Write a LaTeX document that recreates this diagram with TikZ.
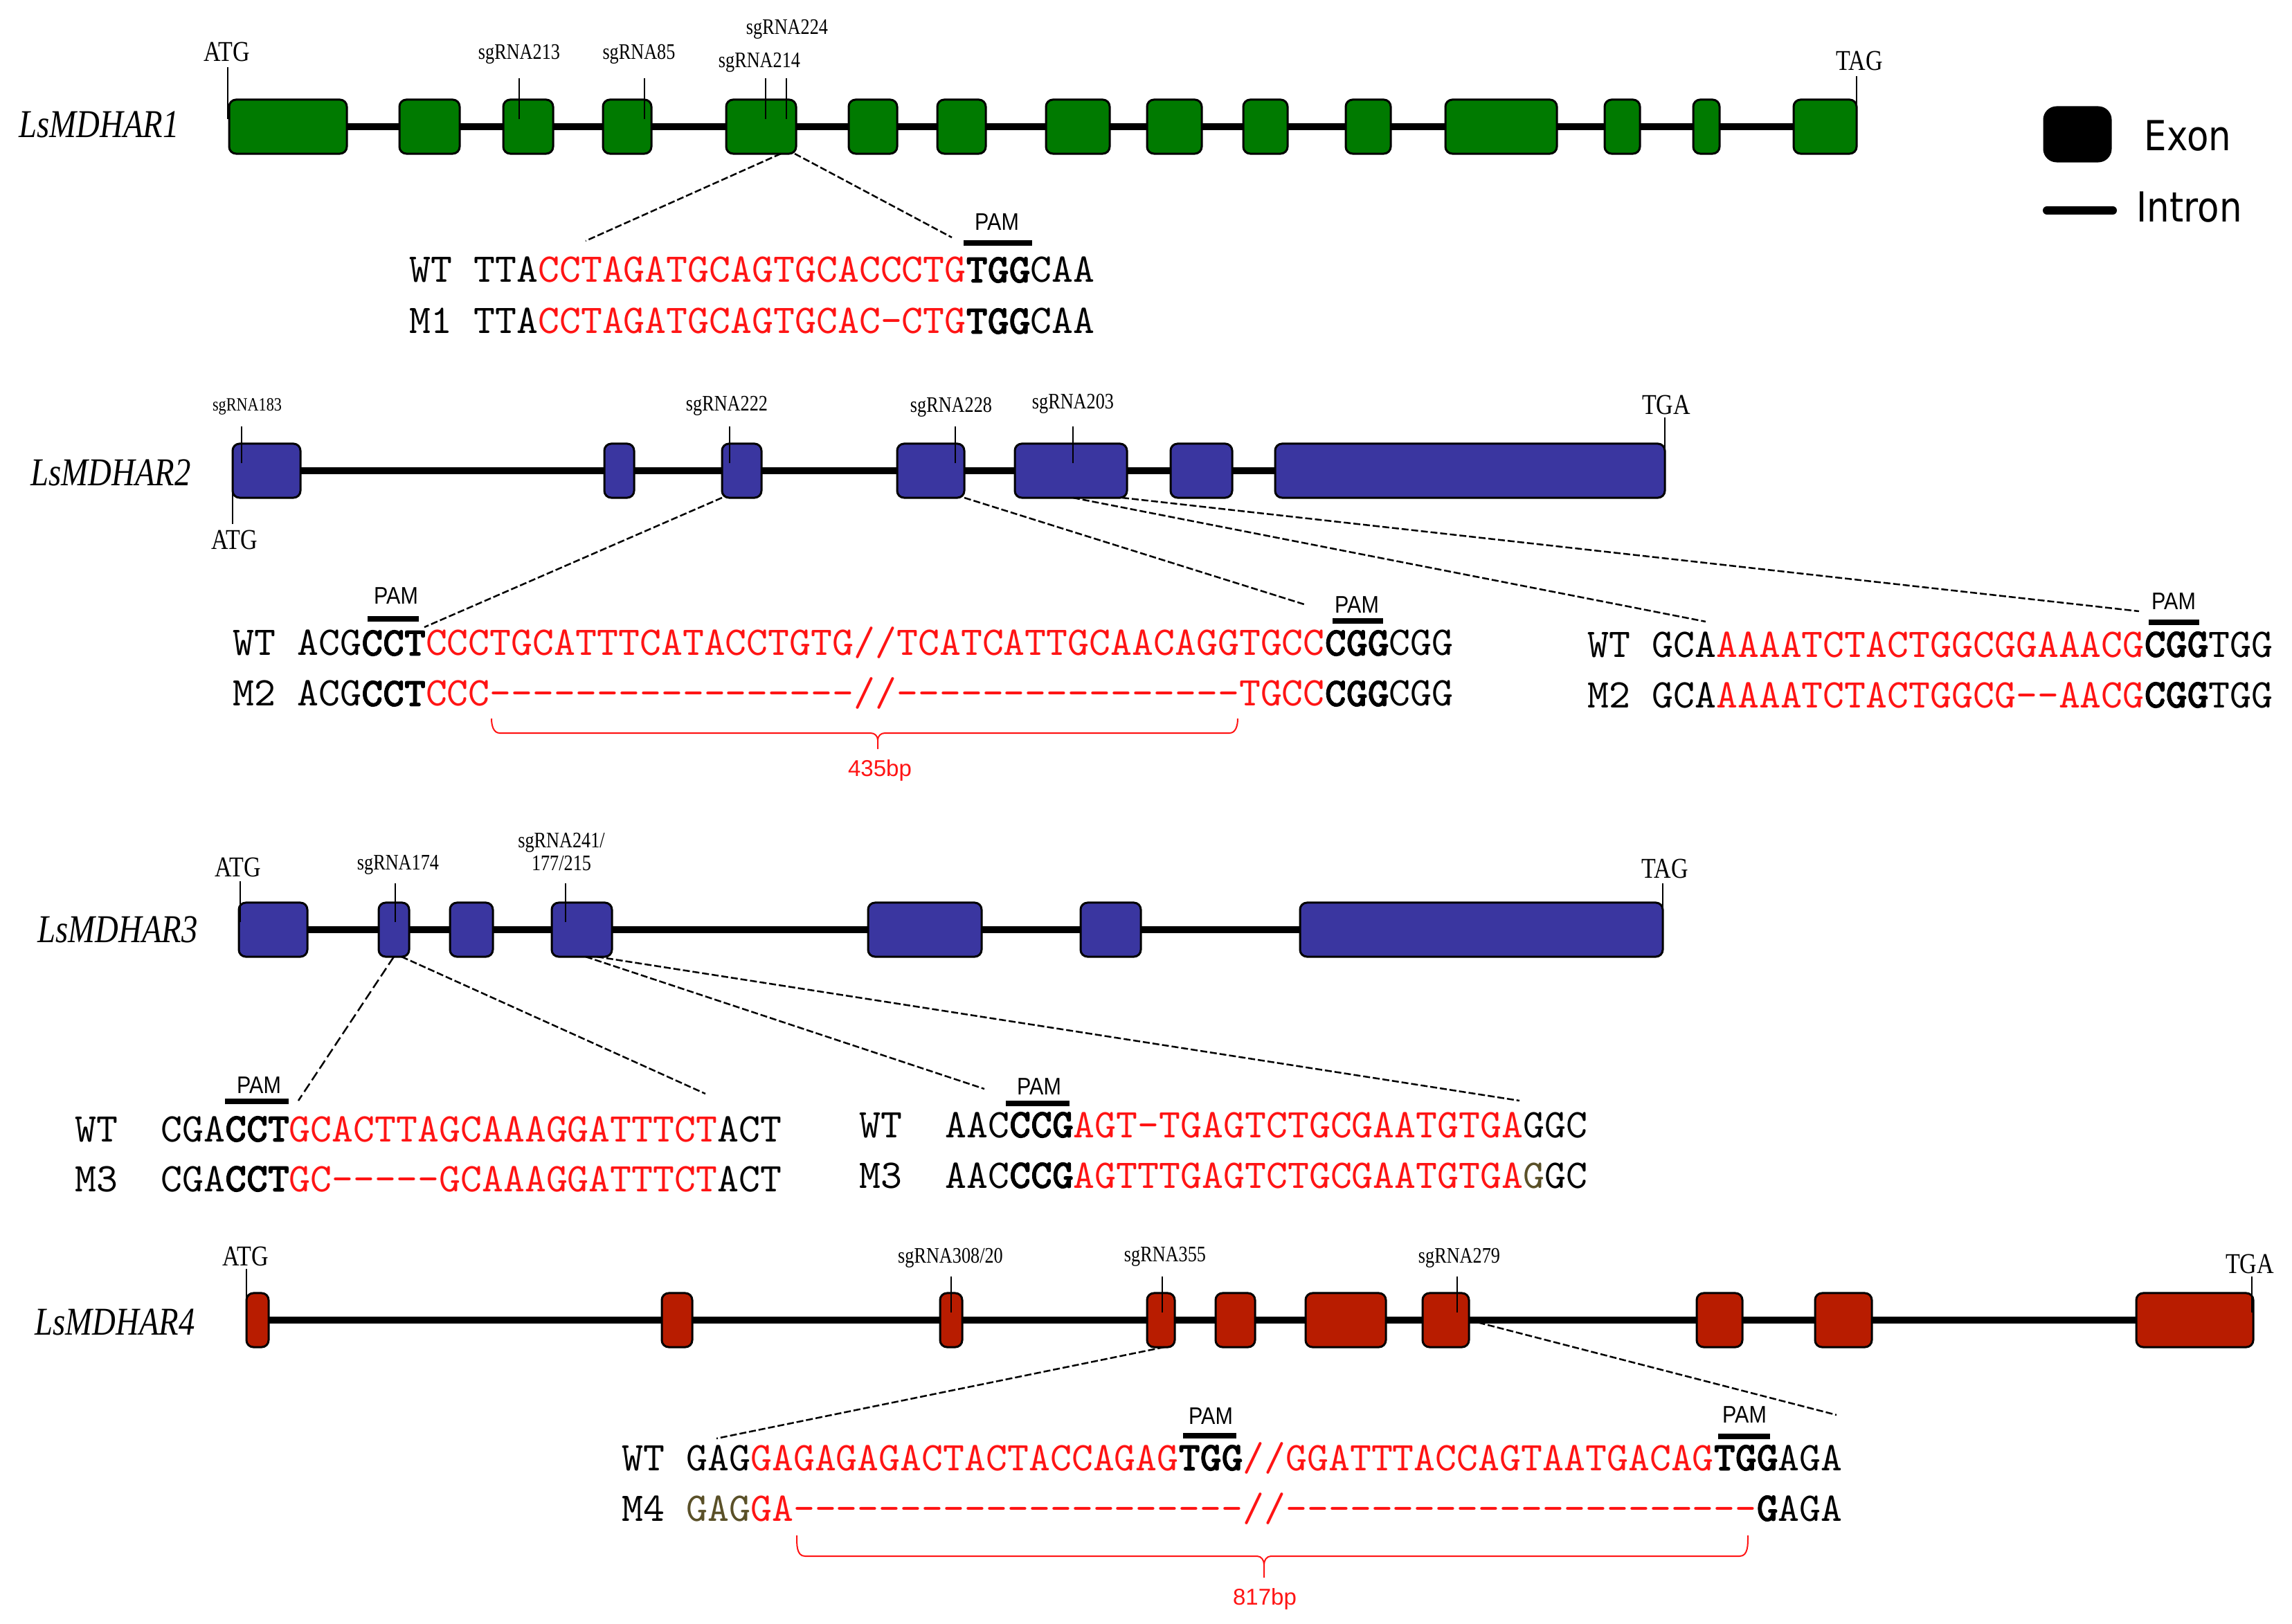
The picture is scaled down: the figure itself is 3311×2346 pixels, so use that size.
\documentclass[tikz,border=0pt]{standalone}
\usepackage{fontspec}
\newfontfamily\labfont[FakeStretch=0.82]{Liberation Serif}
\newfontfamily\pamfont[FakeStretch=0.88]{Liberation Sans}
\newfontfamily\legfont[FakeStretch=0.86]{DejaVu Sans}
\newfontfamily\bpfont{Liberation Sans}
\newfontfamily\seqfont{lmmono10}[Extension=.otf, UprightFont=*-regular, BoldFont=lmmonolt10-bold, BoldFeatures={FakeBold=1.5}]
\usetikzlibrary{backgrounds}
\definecolor{exgreen}{RGB}{0,122,0}
\definecolor{exblue}{RGB}{58,54,160}
\definecolor{exred}{RGB}{184,28,0}
\definecolor{seqred}{RGB}{255,20,20}
\definecolor{olv}{RGB}{90,80,40}
\newcommand{\rs}[1]{\textcolor{seqred}{#1}}
\newcommand{\pamb}[1]{\textbf{#1}}
\newcommand{\gaps}[1]{\foreach \k in {1,...,#1}{-}}

\begin{document}
\begin{tikzpicture}[x=0.01cm, y=-0.01cm,
	exon/.style={draw=black, line width=0.03cm, rounded corners=0.1cm, minimum height=0.78cm, inner sep=0pt, outer sep=0pt},
	intron/.style={line width=0.1cm},
	tick/.style={line width=0.025cm, shorten >=0.11cm},
	zoomline/.style={line width=0.025cm, dash pattern=on 0.1cm off 0.04cm},
	pambar/.style={line width=0.08cm},
	gname/.style={font=\labfont\itshape\fontsize{16.2}{18}\selectfont, inner sep=0pt},
	codon/.style={font=\labfont\fontsize{11.8}{13}\selectfont, inner sep=0pt},
	sglab/.style={font=\labfont\fontsize{9.1}{9.4}\selectfont, inner sep=0pt, align=center},
	pamlab/.style={font=\pamfont\fontsize{9.85}{11}\selectfont, inner sep=0pt},
	seq/.style={font=\seqfont\fontsize{16.75}{20}\selectfont, inner sep=0pt, anchor=base west},
	bplab/.style={font=\bpfont\fontsize{9.4}{11}\selectfont, text=seqred, inner sep=0pt},
	brc/.style={draw=seqred, line width=0.02cm},
	legtxt/.style={font=\legfont\fontsize{17}{20}\selectfont, inner sep=0pt, anchor=west}]
		\useasboundingbox (0,0) rectangle (3311,2346);
		% LsMDHAR1
		\node[gname] (n1) at (143,180) {LsMDHAR1};
		\foreach \a/\b [count=\i] in {331/501,577/664,727/799,871/941,1049/1150,1226/1296,1354/1424,1511/1603,1657/1736,1796/1860,1944/2009,2088/2249,2318/2369,2446/2484,2591/2682} % edit here for the exons
		\node[exon, fill=exgreen, minimum width={(\b-\a)*0.01cm}] (a\i) at ({(\a+\b)/2},183) {};
		\begin{pgfonlayer}{background}
		\draw[intron] (a1.center) -- (a15.center);
		\end{pgfonlayer}
		\node[codon] (atg1) at (328,75) {ATG};
		\node[codon] (tag1) at (2686,88) {TAG};
		\node[sglab] (s213) at (750,78) {sgRNA213};
		\node[sglab] (s85) at (923,78) {sgRNA85};
		\node[sglab] (s214) at (1097,90) {sgRNA214};
		\node[sglab] (s224) at (1137,42) {sgRNA224};
		\draw[tick] (329,97) -- (329,97 |- a1);
		\draw[tick] (2682,110) -- (2682,110 |- a15);
		\foreach \x/\e in {750/a3,931/a4,1106/a5,1136/a5} % edit here for the sgRNA sites
		\draw[tick] (\x,113) -- (\x,113 |- \e);
		\coordinate (z1a) at (846,348);
		\coordinate (z1b) at (1375,343);
		\draw[zoomline] (a5.south -| 1128,0) -- (z1a);
		\draw[zoomline] (a5.south -| 1148,0) -- (z1b);
		\node[pamlab] (p1) at (1440,321) {PAM};
		\draw[pambar] (1392,351) -- (1491,351);
		\node[seq] (wt1) at (591,408) {WT TTA\rs{CCTAGATGCAGTGCACCCTG}\pamb{TGG}CAA};
		\node[seq] (m1) at (591,482) {M1 TTA\rs{CCTAGATGCAGTGCAC-CTG}\pamb{TGG}CAA};
		% legend
		\node[exon, fill=black, minimum width=0.96cm, rounded corners=0.18cm] (lgex) at (3001,194) {};
		\node[legtxt] (lgext) at (3097,196) {Exon};
		\coordinate (lgin) at (2957,304);
		\draw[line width=0.12cm, line cap=round] (lgin) -- ++(95,0);
		\node[legtxt] (lgint) at (3086,299) {Intron};
		% LsMDHAR2
		\node[gname] (n2) at (160,683) {LsMDHAR2};
		\foreach \a/\b [count=\i] in {336/434,873/916,1043/1100,1296/1393,1466/1628,1691/1780,1842/2405}
		\node[exon, fill=exblue, minimum width={(\b-\a)*0.01cm}] (b\i) at ({(\a+\b)/2},680) {};
		\begin{pgfonlayer}{background}
		\draw[intron] (b1.center) -- (b7.center);
		\end{pgfonlayer}
		\node[sglab, font=\labfont\fontsize{7.7}{8}\selectfont] (s183) at (357,587) {sgRNA183};
		\node[codon] (atg2) at (339,780) {ATG};
		\node[sglab] (s222) at (1050,586) {sgRNA222};
		\node[sglab] (s228) at (1374,588) {sgRNA228};
		\node[sglab] (s203) at (1550,583) {sgRNA203};
		\node[codon] (tga2) at (2407,585) {TGA};
		\draw[tick] (336,757) -- (336,757 |- b1);
		\draw[tick] (2405,603) -- (2405,603 |- b7);
		\foreach \x/\e in {349/b1,1054/b3,1380/b4,1550/b5}
		\draw[tick] (\x,616) -- (\x,616 |- \e);
		\coordinate (z2a) at (613,906);
		\coordinate (z2b) at (1884,873);
		\coordinate (z2c) at (2464,898);
		\coordinate (z2d) at (3090,883);
		\draw[zoomline] (b3.south west) -- (z2a);
		\draw[zoomline] (b4.south east) -- (z2b);
		\draw[zoomline] (b5.south -| 1550,0) -- (z2c);
		\draw[zoomline] (b5.south -| 1621,0) -- (z2d);
		\node[pamlab] (p2a) at (572,861) {PAM};
		\node[pamlab] (p2b) at (1960,874) {PAM};
		\node[pamlab] (p2c) at (3140,869) {PAM};
		\draw[pambar] (531,894) -- (605,894);
		\draw[pambar] (1925,897) -- (1998,897);
		\draw[pambar] (3104,899) -- (3177,899);
		\node[seq] (wt2a) at (336,947) {WT ACG\pamb{CCT}\rs{CCCTGCATTTCATACCTGTG//TCATCATTGCAACAGGTGCC}\pamb{CGG}CGG};
		\node[seq] (m2a) at (336,1020) {M2 ACG\pamb{CCT}\rs{CCC\gaps{17}//\gaps{16}TGCC}\pamb{CGG}CGG};
		\node[seq] (wt2b) at (2293,949) {WT GCA\rs{AAAATCTACTGGCGGAAACG}\pamb{CGG}TGG};
		\node[seq] (m2b) at (2293,1022) {M2 GCA\rs{AAAATCTACTGGCG\gaps{2}AACG}\pamb{CGG}TGG};
		\draw[brc] (710,1038) to[out=-90,in=180] (722,1059) -- (1258,1059) to[out=0,in=90] (1268,1069) -- (1268,1082);
		\draw[brc] (1268,1069) to[out=90,in=180] (1278,1059) -- (1776,1059) to[out=0,in=-90] (1788,1038);
		\node[bplab] (bp2) at (1271,1113) {435bp};
		% LsMDHAR3
		\node[gname] (n3) at (170,1343) {LsMDHAR3};
		\foreach \a/\b [count=\i] in {345/444,547/591,650/712,797/884,1254/1418,1561/1648,1878/2402}
		\node[exon, fill=exblue, minimum width={(\b-\a)*0.01cm}] (c\i) at ({(\a+\b)/2},1343) {};
		\begin{pgfonlayer}{background}
		\draw[intron] (c1.center) -- (c7.center);
		\end{pgfonlayer}
		\node[codon] (atg3) at (344,1253) {ATG};
		\node[sglab] (s174) at (575,1249) {sgRNA174};
		\node[sglab] (s241) at (811,1231) {sgRNA241/\\177/215};
		\node[codon] (tag3) at (2405,1255) {TAG};
		\draw[tick] (347,1273) -- (347,1273 |- c1);
		\draw[tick] (2402,1276) -- (2402,1276 |- c7);
		\foreach \x/\e in {571/c2,817/c4}
		\draw[tick] (\x,1276) -- (\x,1276 |- \e);
		\coordinate (z3a) at (431,1590);
		\coordinate (z3b) at (1019,1580);
		\coordinate (z3c) at (1422,1573);
		\coordinate (z3d) at (2195,1590);
		\draw[zoomline, dash pattern=on 0.14cm off 0.06cm] (c2.south -| 569,0) -- (z3a);
		\draw[zoomline] (c2.south -| 580,0) -- (z3b);
		\draw[zoomline] (c4.south -| 846,0) -- (z3c);
		\draw[zoomline] (c4.south -| 862,0) -- (z3d);
		\node[pamlab] (p3a) at (374,1568) {PAM};
		\node[pamlab] (p3b) at (1501,1570) {PAM};
		\draw[pambar] (325,1591) -- (417,1591);
		\draw[pambar] (1453,1594) -- (1545,1594);
		\node[seq] (wt3a) at (108,1649) {WT\ \ CGA\pamb{CCT}\rs{GCACTTAGCAAAGGATTTCT}ACT};
		\node[seq] (m3a) at (108,1721) {M3\ \ CGA\pamb{CCT}\rs{GC\gaps{5}GCAAAGGATTTCT}ACT};
		\node[seq] (wt3b) at (1241,1643) {WT\ \ AAC\pamb{CCG}\rs{AGT-TGAGTCTGCGAATGTGA}GGC};
		\node[seq] (m3b) at (1241,1716) {M3\ \ AAC\pamb{CCG}\rs{AGTTTGAGTCTGCGAATGTGA}\textcolor{olv}{G}GC};
		% LsMDHAR4
		\node[gname] (n4) at (166,1910) {LsMDHAR4};
		\foreach \a/\b [count=\i] in {356/388,956/1000,1358/1390,1657/1697,1756/1813,1886/2002,2055/2122,2451/2517,2622/2704,3086/3255}
		\node[exon, fill=exred, minimum width={(\b-\a)*0.01cm}] (d\i) at ({(\a+\b)/2},1907) {};
		\begin{pgfonlayer}{background}
		\draw[intron] (d1.center) -- (d10.center);
		\end{pgfonlayer}
		\node[codon] (atg4) at (355,1815) {ATG};
		\node[sglab] (s308) at (1373,1817) {sgRNA308/20};
		\node[sglab] (s355) at (1683,1815) {sgRNA355};
		\node[sglab] (s279) at (2108,1817) {sgRNA279};
		\node[codon] (tga4) at (3250,1826) {TGA};
		\draw[tick] (356,1833) -- (356,1833 |- d1);
		\draw[tick] (3253,1844) -- (3253,1844 |- d10);
		\foreach \x/\e in {1374/d3,1679/d4,2105/d7}
		\draw[tick] (\x,1844) -- (\x,1844 |- \e);
		\coordinate (z4a) at (1035,2078);
		\coordinate (z4b) at (2653,2044);
		\draw[zoomline] (d4.south -| 1682,0) -- (z4a);
		\draw[zoomline] (d7.east) -- (z4b);
		\node[pamlab] (p4a) at (1749,2046) {PAM};
		\node[pamlab] (p4b) at (2520,2044) {PAM};
		\draw[pambar] (1709,2074) -- (1786,2074);
		\draw[pambar] (2482,2075) -- (2557,2075);
		\node[seq] (wt4) at (898,2124) {WT GAG\rs{GAGAGAGACTACTACCAGAG}\pamb{TGG}\rs{//GGATTTACCAGTAATGACAG}\pamb{TGG}AGA};
		\node[seq] (m4) at (898,2197) {M4 \textcolor{olv}{GAG}\rs{GA\gaps{21}//\gaps{22}}\pamb{G}AGA};
		\draw[brc] (1151,2218) to[out=-90,in=180] (1163,2248) -- (1816,2248) to[out=0,in=90] (1826,2260) -- (1826,2279);
		\draw[brc] (1826,2260) to[out=90,in=180] (1836,2248) -- (2513,2248) to[out=0,in=-90] (2525,2218);
		\node[bplab] (bp4) at (1827,2310) {817bp};
		\end{tikzpicture}
\end{document}
